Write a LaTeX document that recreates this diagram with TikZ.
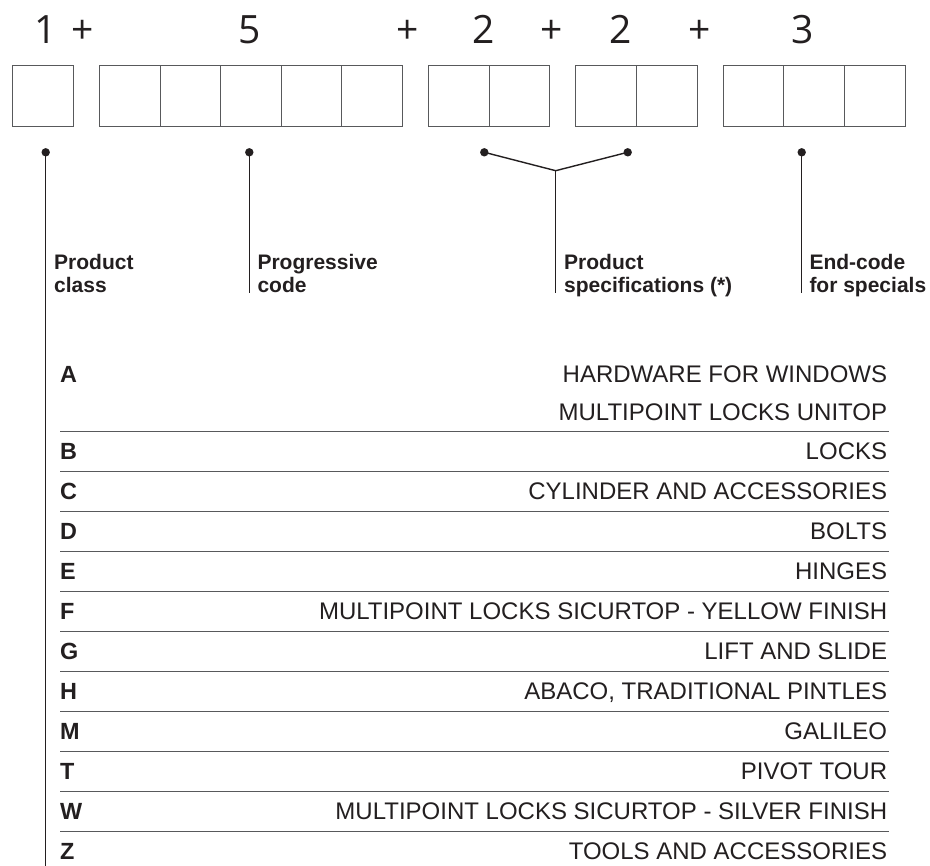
\documentclass[tikz,border=0pt]{standalone}
\usepackage{fontspec}
\setmainfont{Liberation Sans}
\newfontfamily\numfont{Open Sans}
\definecolor{ink}{HTML}{231F20}
\definecolor{rulegray}{HTML}{58595B}
\newcommand{\twoL}[2]{\begin{tabular}[t]{@{}l@{}}#1\\#2\end{tabular}}
\newcommand{\twoR}[2]{\begin{tabular}[t]{@{}r@{}}#1\\#2\end{tabular}}
\begin{document}
\begin{tikzpicture}[x=1pt,y=-1pt,
  cell/.style={draw=rulegray,line width=1pt,minimum size=60.6pt,inner sep=0pt,anchor=north west},
  num/.style={font=\numfont\fontsize{39}{39}\selectfont,text=ink,inner sep=0pt,anchor=base},
  dot/.style={circle,fill=ink,inner sep=0pt,minimum size=8.4pt},
  conn/.style={draw=ink,line width=1.4pt},
  lbl/.style={font=\bfseries\fontsize{21}{23.3}\selectfont,text=ink,inner sep=0pt,anchor=base west},
  key/.style={font=\bfseries\fontsize{23.4}{23.4}\selectfont,text=ink,inner sep=0pt,anchor=base west},
  desc/.style={font=\fontsize{24}{38}\selectfont,text=ink,inner sep=0pt,anchor=base east},
  hrule/.style={draw=rulegray,line width=1.2pt}]
\useasboundingbox[fill=white] (0,0) rectangle (930,866);

% numbers
\node[num] (n1) at (45.8,43.3) {1};
\node[num] (n2) at (83,43.3) {+};
\node[num] (n3) at (249.7,43.3) {5};
\node[num] (n4) at (408,43.3) {+};
\node[num] (n5) at (483.5,43.3) {2};
\node[num] (n6) at (552,43.3) {+};
\node[num] (n7) at (620.3,43.3) {2};
\node[num] (n8) at (699.5,43.3) {+};
\node[num] (n9) at (802.5,43.3) {3};

% cells
\foreach \i/\x in {1/12, 2/99, 3/159.6, 4/220.2, 5/280.8, 6/341.4,
                   7/428, 8/488.6, 9/575.3, 10/635.9,
                   11/722.7, 12/783.3, 13/843.9}
  \node[cell] (c\i) at (\x,65) {};

% dots and connectors
\node[dot] (d1) at (45.7,152.3) {};
\node[dot] (d2) at (249.3,152.3) {};
\node[dot] (d3) at (484.3,152.3) {};
\node[dot] (d4) at (627.7,152.3) {};
\node[dot] (d5) at (801.7,152.3) {};
\coordinate (e1) at (45.7,866);
\coordinate (e2) at (249.3,292.7);
\coordinate (j) at (555.7,170.7);
\coordinate (e3) at (555.7,292.7);
\coordinate (e5) at (801.7,292.7);
\draw[conn] (d1.center) -- (e1);
\draw[conn] (d2.center) -- (e2);
\draw[conn,line join=miter] (d3.center) -- (j) -- (d4.center);
\draw[conn] (j) -- (e3);
\draw[conn] (d5.center) -- (e5);

% labels
\node[lbl] (l1) at (54,269.3) {\twoL{Product}{class}};
\node[lbl] (l2) at (257.3,269.3) {\twoL{Progressive}{code}};
\node[lbl] (l3) at (564,269.3) {\twoL{Product}{specifications (*)}};
\node[lbl] (l4) at (809.3,269.3) {\twoL{End-code}{for specials}};

% table
\node[key] (kA) at (60,382.7) {A};
\node[desc] (tA) at (887.3,382.7) {\twoR{HARDWARE FOR WINDOWS}{MULTIPOINT LOCKS UNITOP}};
\foreach \k/\L/\T in {0/B/LOCKS, 1/C/CYLINDER AND ACCESSORIES, 2/D/BOLTS, 3/E/HINGES,
   4/F/MULTIPOINT LOCKS SICURTOP - YELLOW FINISH, 5/G/LIFT AND SLIDE,
   6/H/{ABACO, TRADITIONAL PINTLES}, 7/M/GALILEO, 8/T/PIVOT TOUR,
   9/W/MULTIPOINT LOCKS SICURTOP - SILVER FINISH, 10/Z/TOOLS AND ACCESSORIES} {
  \node[key] (k\L) at (60,459.3+40*\k) {\L};
  \node[desc] (t\L) at (887.3,459.3+40*\k) {\T};
}
\foreach \k in {0,...,10}
  \draw[hrule] (60,431.7+40*\k) -- (889.3,431.7+40*\k);
\end{tikzpicture}
\end{document}
